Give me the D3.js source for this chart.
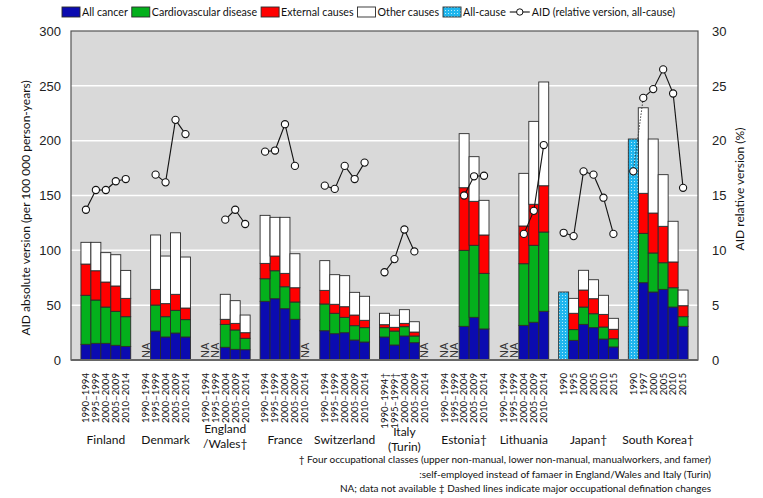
<!DOCTYPE html>
<html><head><meta charset="utf-8">
<script src="https://cdn.jsdelivr.net/npm/d3@7"></script>
<style>body{margin:0;background:#fff}text{font-family:Lato,"Noto Sans",sans-serif}</style>
</head><body>
<svg id="c" width="763" height="498"></svg>
<script>
// ---------------- DATA ----------------
const countryNames = [["Finland"],["Denmark"],["England","/Wales†"],["France"],["Switzerland"],["Italy","(Turin)"],["Estonia†"],["Lithuania"],["Japan†"],["South Korea†"]];
const p5 = ["1990–1994","1995–1999","2000–2004","2005–2009","2010–2014"];
const periodLabels = [p5, p5, p5, p5, p5,
  ["1990–1994†","1995–1999†","2000–2004","2005–2009","2010–2014"],
  p5, p5,
  ["1990","1995","2000","2005","2010","2015"],
  ["1990","1997","2000","2005","2010","2015"]];
const cancer = [
  [14.3,15.2,15.2,13.4,12.4],[null,26.4,21.0,24.6,21.0],[null,null,11.6,9.7,9.4],
  [53.5,55.9,46.8,37.1,null],[26.7,24.0,24.9,18.2,16.4],[21.0,13.7,21.9,15.8,null],
  [null,null,30.7,38.9,28.3],[null,null,31.6,34.4,44.4],
  [null,17.9,32.5,29.5,19.1,11.9],[null,70.5,62.0,64.4,48.3,30.7]];
const cardiovascular = [
  [44.7,39.5,33.1,31.0,27.1],[null,23.7,18.5,20.7,15.8],[null,null,20.9,17.7,10.4],
  [20.6,25.5,20.0,15.8,null],[24.4,18.6,14.0,13.1,13.1],[8.5,12.7,8.5,6.1,null],
  [null,null,69.3,65.7,50.7],[null,null,56.2,70.2,72.3],
  [null,9.8,15.8,12.7,11.0,7.5],[null,45.0,35.6,24.3,17.6,8.8]];
const external = [
  [28.5,26.7,22.8,23.1,16.7],[null,14.3,11.9,14.6,10.6],[null,null,4.6,6.0,5.1],
  [14.0,13.4,12.2,13.0,null],[12.4,8.2,9.7,9.7,6.7],[2.7,3.4,3.0,3.6,null],
  [null,null,57.1,40.1,35.0],[null,null,34.4,37.4,42.2],
  [null,14.9,15.5,13.7,11.5,8.6],[null,36.5,36.4,33.2,23.5,10.0]];
const otherCauses = [
  [19.8,25.9,26.8,28.5,25.5],[null,49.6,43.4,56.1,46.5],[null,null,22.8,20.7,16.1],
  [43.8,35.3,51.1,31.0,null],[27.1,27.0,28.3,20.7,21.9],[10.4,11.0,12.5,9.4,null],
  [null,null,49.3,40.7,31.6],[null,null,48.0,75.6,94.6],
  [null,13.6,18.0,17.3,17.4,10.0],[null,78.0,67.5,47.1,37.1,14.3]];
const allCause = [
  [null,null,null,null,null],[null,null,null,null,null],[null,null,null,null,null],
  [null,null,null,null,null],[null,null,null,null,null],[null,null,null,null,null],
  [null,null,null,null,null],[null,null,null,null,null],
  [62.0,null,null,null,null,null],[201.5,null,null,null,null,null]];
const aidRelative = [
  [13.7,15.5,15.5,16.3,16.5],[null,16.9,16.2,21.9,20.6],[null,null,12.8,13.7,12.4],
  [19.0,19.1,21.5,17.7,null],[15.9,15.6,17.7,16.5,18.0],[8.0,9.2,11.9,9.9,null],
  [null,null,15.0,16.75,16.8],[null,null,11.5,13.6,19.6],
  [11.6,11.3,17.2,16.9,14.8,11.5],[17.2,23.9,24.7,26.5,24.3,15.7]];
const dashedSegments = [[9,0]]; // [country, from-index]
const leftTicks = [0,50,100,150,200,250,300];
const rightTicks = [0,5,10,15,20,25,30];
const seriesNames = ["All cancer","Cardiovascular disease","External causes","Other causes","All-cause","AID (relative version, all-cause)"];
const footnotes = ["† Four occupational classes (upper non-manual, lower non-manual, manualworkers, and famer)",
  ":self-employed instead of famaer in England/Wales and Italy (Turin)",
  "NA; data not available  ‡ Dashed lines indicate major occupational defination changes"];

// ---------------- LAYOUT ----------------
const svg = d3.select("#c");
const L = 71, R = 698, T = 31, B = 360;
const colors = {cancer:"#0b0bb0", cvd:"#04b01c", ext:"#ff0000", other:"#ffffff"};

const defs = svg.append("defs");
const pat = defs.append("pattern").attr("id","dots").attr("width",3).attr("height",3).attr("patternUnits","userSpaceOnUse");
pat.append("rect").attr("width",3).attr("height",3).attr("fill","#1fb6ee");
pat.append("rect").attr("x",1).attr("y",1).attr("width",1).attr("height",1).attr("fill","#b5ecfb");

const domain = ["pad0"];
const bars = [];
periodLabels.forEach((pl, ci) => {
  if (ci > 0) domain.push("gap"+ci);
  pl.forEach((lab, pi) => {
    const key = ci+"-"+pi;
    domain.push(key);
    bars.push({key, ci, pi, label: lab,
      cancer: cancer[ci][pi], cvd: cardiovascular[ci][pi], ext: external[ci][pi], other: otherCauses[ci][pi],
      all: allCause[ci][pi], rel: aidRelative[ci][pi]});
  });
});
domain.push("pad1");
const x = d3.scaleBand().domain(domain).range([L, R]).padding(0);
const y = d3.scaleLinear().domain([0,300]).range([B, T]);
const y2 = d3.scaleLinear().domain([0,30]).range([B, T]);

svg.append("rect").attr("x",L).attr("y",T).attr("width",R-L).attr("height",B-T).attr("fill","#d9d9d9");
svg.append("g").selectAll("line").data(leftTicks.filter(t => t>0 && t<300)).join("line")
  .attr("x1",L).attr("x2",R).attr("y1",d=>y(d)).attr("y2",d=>y(d)).attr("stroke","#ffffff").attr("stroke-width",1.5);

const stackData = bars.filter(b => b.cancer != null);
const keys = ["cancer","cvd","ext","other"];
const stacked = d3.stack().keys(keys).value((d,k) => d[k] || 0)(stackData);
const gBars = svg.append("g");
stacked.forEach(layer => {
  gBars.append("g").selectAll("rect").data(layer).join("rect")
    .attr("x", d => x(d.data.key)).attr("width", x.bandwidth())
    .attr("y", d => y(d[1])).attr("height", d => y(d[0]) - y(d[1]))
    .attr("fill", colors[layer.key]).attr("stroke","#2b2b2b").attr("stroke-width",0.9);
});
gBars.append("g").selectAll("rect").data(bars.filter(b => b.all != null)).join("rect")
  .attr("x", d => x(d.key)).attr("width", x.bandwidth())
  .attr("y", d => y(d.all)).attr("height", d => y(0) - y(d.all))
  .attr("fill","url(#dots)").attr("stroke","#2b2b2b").attr("stroke-width",0.9);

svg.append("g").selectAll("text").data(bars.filter(b => b.cancer == null && b.all == null)).join("text")
  .attr("transform", d => `translate(${x(d.key)+x.bandwidth()/2},358) rotate(-90)`)
  .attr("dy","0.35em").attr("text-anchor","start").attr("font-size",11).attr("fill","#333")
  .style("font-family","'Liberation Sans',Arial,sans-serif").text("NA");

const cx = d => x(d.key) + x.bandwidth()/2;
const segs = [];
bars.forEach((b, i) => {
  const n = bars[i+1];
  if (n && n.ci === b.ci && b.rel != null && n.rel != null) {
    const dashed = dashedSegments.some(s => s[0] === b.ci && s[1] === b.pi);
    segs.push({pts:[b,n], dashed});
  }
});
const line = d3.line().x(cx).y(d => y2(d.rel));
svg.append("g").selectAll("path").data(segs).join("path")
  .attr("d", d => line(d.pts)).attr("fill","none").attr("stroke", d => d.dashed ? "#444" : "#111")
  .attr("stroke-width", d => d.dashed ? 1 : 1.1).attr("stroke-dasharray", d => d.dashed ? "1.5,1.5" : null);
svg.append("g").selectAll("circle").data(bars.filter(b => b.rel != null)).join("circle")
  .attr("cx", cx).attr("cy", d => y2(d.rel)).attr("r",3.6)
  .attr("fill","#fff").attr("stroke","#111").attr("stroke-width",1.1);

svg.append("rect").attr("x",L).attr("y",T).attr("width",R-L).attr("height",B-T)
  .attr("fill","none").attr("stroke","#555").attr("stroke-width",1.2);
svg.append("line").attr("x1",L).attr("x2",R).attr("y1",B).attr("y2",B).attr("stroke","#666").attr("stroke-width",2);

const axL = svg.append("g").attr("transform",`translate(${L},0)`)
  .call(d3.axisLeft(y).tickValues(leftTicks).tickSize(0).tickPadding(10));
const axR = svg.append("g").attr("transform",`translate(${R},0)`)
  .call(d3.axisRight(y2).tickValues(rightTicks).tickSize(0).tickPadding(14));
[axL, axR].forEach(a => {
  a.select(".domain").remove();
  a.selectAll("text").attr("font-size",13).attr("fill","#222")
    .style("font-family","'Liberation Sans',Arial,sans-serif");
});

svg.append("text").attr("transform","translate(26,208) rotate(-90)").attr("text-anchor","middle")
  .attr("dy","0.35em").attr("font-size",12).attr("fill","#111").text("AID absolute version (per 100 000 person-years)");
svg.append("text").attr("transform","translate(740,189) rotate(-90)").attr("text-anchor","middle")
  .attr("dy","0.35em").attr("font-size",12).attr("fill","#111").text("AID relative version (%)");

svg.append("g").selectAll("text").data(bars).join("text")
  .attr("transform", d => `translate(${cx(d)},373) rotate(-90)`)
  .attr("dy","0.35em").attr("text-anchor","end").attr("font-size",9.6).attr("fill","#111")
  .text(d => d.label);

const groups = countryNames.map((nm, ci) => {
  const bs = bars.filter(b => b.ci === ci);
  const x0 = x(bs[0].key), x1 = x(bs[bs.length-1].key) + x.bandwidth();
  return {nm, xc:(x0+x1)/2};
});
const gl = svg.append("g").selectAll("text").data(groups).join("text")
  .attr("text-anchor","middle").attr("font-size",12).attr("fill","#111");
gl.each(function(d){
  const t = d3.select(this);
  if (d.nm.length === 1) {
    t.append("tspan").attr("x",d.xc).attr("y",444).text(d.nm[0]);
  } else {
    const y0 = d.nm[0] === "Italy" ? 436 : 433;
    d.nm.forEach((s,i) => t.append("tspan").attr("x",d.xc).attr("y",y0 + i*14.5).text(s));
  }
});

svg.append("g").selectAll("text").data(footnotes).join("text")
  .attr("x",711).attr("y",(d,i) => 463 + i*14.5).attr("text-anchor","end")
  .attr("font-size",10).attr("fill","#111").text(d => d);

// legend (sequential layout, fitted to span 62..676)
const lg = svg.append("g");
const legendItems = [
  {fill:colors.cancer, t:seriesNames[0]},
  {fill:colors.cvd, t:seriesNames[1]},
  {fill:colors.ext, t:seriesNames[2]},
  {fill:colors.other, t:seriesNames[3]},
  {fill:"url(#dots)", t:seriesNames[4]},
  {line:true, t:seriesNames[5]}];
function layoutLegend(fs) {
  lg.selectAll("*").remove();
  let cxp = 62;
  legendItems.forEach(it => {
    if (it.line) {
      lg.append("line").attr("x1",cxp).attr("x2",cxp+20).attr("y1",12).attr("y2",12).attr("stroke","#111").attr("stroke-width",1.1);
      lg.append("circle").attr("cx",cxp+10).attr("cy",12).attr("r",3.2).attr("fill","#fff").attr("stroke","#111");
      cxp += 22;
    } else {
      lg.append("rect").attr("x",cxp).attr("y",7).attr("width",18).attr("height",10)
        .attr("fill",it.fill).attr("stroke","#2b2b2b").attr("stroke-width",0.9);
      cxp += 20;
    }
    const t = lg.append("text").attr("x",cxp).attr("y",12).attr("dy","0.35em").attr("font-size",fs).attr("fill","#111").text(it.t);
    cxp += t.node().getComputedTextLength() + 4;
  });
  return cxp - 4;
}
let endX = layoutLegend(12);
const textTotal = endX - 62 - (5*20 + 22 + 5*4);
const fs = 12 * (676 - 62 - (5*20 + 22 + 5*4)) / textTotal;
layoutLegend(Math.min(13, fs));
</script>
</body></html>
